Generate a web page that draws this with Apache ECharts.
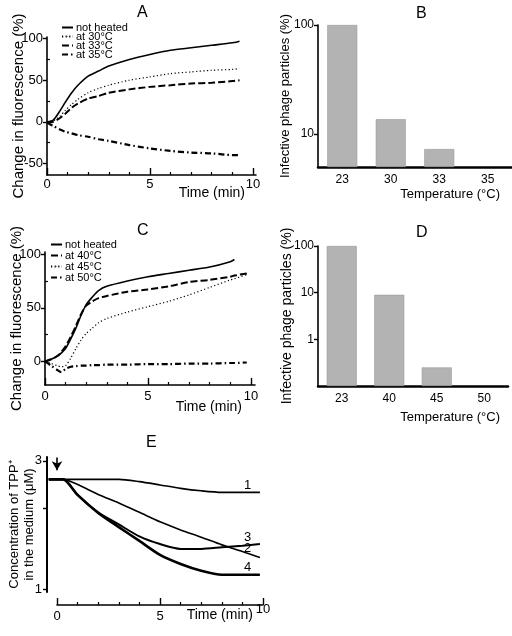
<!DOCTYPE html>
<html><head><meta charset="utf-8">
<script src="https://cdn.jsdelivr.net/npm/echarts@6/dist/echarts.min.js"></script>
<style>html,body{margin:0;padding:0;background:#fff}#c{width:512px;height:636px}</style>
</head><body><div id="c"></div>
<script>
// ---------- data ----------
// Panel A
const timeA = [0, 0.3, 0.6, 0.9, 1.2, 1.5, 2, 2.5, 3, 4, 5, 6, 7, 8, 9, 9.35];
const aNotHeated = [0, 2, 12, 24, 35, 44, 55, 61, 67, 75, 81, 86, 89, 92, 95, 97];
const aAt30 = [0, 1, 6, 14, 21, 27, 35, 40, 44, 50, 54, 58, 60, 62, 63, 64];
const aAt33 = [-1, 0, 4, 10, 17, 22, 28, 31, 35, 39, 42, 44, 46, 47, 49, 50];
const aAt35 = [-1, -5, -9, -12, -14, -16, -18, -21, -23, -28, -32, -35, -37, -38, -40, -40];
const namesA = ['not heated', 'at 30°C', 'at 33°C', 'at 35°C'];
// Panel B
const tempB = ['23', '30', '33', '35'];
const infB = [100, 13.7, 7.3, null];
// Panel C
const timeC = [0, 0.3, 0.6, 0.8, 1, 1.25, 1.5, 1.75, 2, 2.3, 2.6, 3, 4, 5, 6, 7, 8, 9, 9.2, 9.8];
const cNotHeated = [0, 2, 5, 8, 12, 21, 31, 43, 53, 60, 66, 70, 75, 79, 82, 85, 88, 93, 95, null];
const cAt40 = [0, 2, 5, 9, 14, 23, 33, 44, 52, 56, 59, 61, 65, 67, 70, 74, 76, 79, 80, 82];
const cAt45 = [0, -2, -4, -5, -4, 3, 12, 20, 26, 31, 36, 40, 46, 51, 56, 62, 69, 76, 77, 81];
const cAt50 = [0, -4, -8, -10, -7, -5, -4.5, -4, -4, -3.5, -3.5, -3, -3, -2.5, -2.5, -2, -2, -1.5, -1.5, -1];
const namesC = ['not heated', 'at 40°C', 'at 45°C', 'at 50°C'];
// Panel D
const tempD = ['23', '40', '45', '50'];
const infD = [100, 9, 0.25, null];
// Panel E
const timeE = [-0.4, 0, 0.3, 1, 2, 3, 4, 5, 6, 7, 8, 9, 9.85];
const e1 = [2.56, 2.56, 2.56, 2.56, 2.56, 2.56, 2.51, 2.44, 2.37, 2.32, 2.29, 2.29, 2.29];
const e2 = [2.56, 2.56, 2.56, 2.45, 2.25, 2.09, 1.93, 1.78, 1.66, 1.56, 1.46, 1.38, 1.31];
const e3 = [2.56, 2.56, 2.56, 2.24, 1.93, 1.74, 1.57, 1.47, 1.41, 1.41, 1.43, 1.45, 1.47];
const e4 = [2.56, 2.56, 2.56, 2.24, 1.92, 1.70, 1.51, 1.34, 1.24, 1.17, 1.13, 1.13, 1.13];
const curveLabelsE = ['1', '2', '3', '4'];
const arrowTimeE = 0;
// ticks
const xMajor = [0, 5, 10];
const xMinor = [1, 2, 3, 4, 6, 7, 8, 9];
const yMajorA = [-50, 0, 50, 100];
const yMinorA = [-25, 25, 75];
const yMajorC = [0, 50, 100];
const yMinorC = [25, 75];
const yTicksE = [1, 2, 3];
const yLabelsE = [1, 3];

// ---------- chart ----------
const FONT = 'Liberation Sans';
const K = '#000';
const pairs = (xs, ys) => xs.map((x, i) => [x, ys[i]]);
const lineStyleW = w => ({ color: K, width: w });

// axis extents [min, max, interval] (min and max are multiples of interval)
const A_X = [0, 10.15, 0.05], A_Y = [-64, 102, 2];
const C_X = [0, 10.2, 0.2], C_Y = [-22, 102, 2];
const T_X = [0, 10, 1], UNIT = [0, 1, 1];

const grids = [], xAxes = [], yAxes = [];
const addGrid = g => { grids.push(Object.assign({}, g)); return grids.length - 1; };
const addX = a => { xAxes.push(a); return xAxes.length - 1; };
const addY = a => { yAxes.push(a); return yAxes.length - 1; };
const ext = e => ({ min: e[0], max: e[1], interval: e[2] });
const hiddenX = (gi, e) => addX(Object.assign({ gridIndex: gi, type: 'value', show: false }, ext(e)));
const hiddenY = (gi, e) => addY(Object.assign({ gridIndex: gi, type: 'value', show: false }, ext(e)));

function minorX(gi, e, vals) {
  return Object.assign({ gridIndex: gi, type: 'value', position: 'bottom',
    axisLine: { show: false },
    axisTick: { show: true, inside: true, length: 3, customValues: vals, lineStyle: lineStyleW(1.2) },
    axisLabel: { show: false }, splitLine: { show: false } }, ext(e));
}
function minorY(gi, e, vals) {
  return Object.assign({ gridIndex: gi, type: 'value', position: 'left',
    axisLine: { show: false },
    axisTick: { show: true, inside: true, length: 3, customValues: vals, lineStyle: lineStyleW(1.2) },
    axisLabel: { show: false }, splitLine: { show: false } }, ext(e));
}
function timeAxis(gi, e, labelMargin, namePad, nameGap, labelFmt, labelLH) {
  const label = { customValues: xMajor, color: K, fontSize: 13, margin: labelMargin,
    rich: { up: { fontSize: 13, color: K, lineHeight: 8 } } };
  if (labelFmt) label.formatter = labelFmt;
  if (labelLH) label.lineHeight = labelLH;
  return Object.assign({ gridIndex: gi, type: 'value', position: 'bottom',
    axisLine: { show: true, lineStyle: lineStyleW(1.6) },
    axisTick: { show: true, inside: true, length: 7, customValues: xMajor, lineStyle: lineStyleW(1.4) },
    axisLabel: label,
    splitLine: { show: false },
    name: 'Time (min)', nameLocation: 'end', nameGap: nameGap, nameMoveOverlap: false,
    nameTextStyle: { color: K, fontSize: 14, align: 'right', verticalAlign: 'top', padding: [namePad, 0, 0, 0] } }, ext(e));
}
function fluorY(gi, e, ticks) {
  return Object.assign({ gridIndex: gi, type: 'value', position: 'left',
    axisLine: { show: true, lineStyle: lineStyleW(1.6) },
    axisTick: { show: true, inside: false, length: 4, customValues: ticks, lineStyle: lineStyleW(1.4) },
    axisLabel: { customValues: ticks, color: K, fontSize: 13, margin: 4 }, splitLine: { show: false },
    name: 'Change in fluorescence (%)', nameLocation: 'middle', nameGap: 21, nameMoveOverlap: false,
    nameTextStyle: { color: K, fontSize: 15 } }, ext(e));
}
function tempX(gi, cats, nameGap, namePad) {
  return { gridIndex: gi, type: 'category', position: 'bottom', data: cats,
    axisLine: { show: true, onZero: false, lineStyle: lineStyleW(2.5) },
    axisTick: { show: false }, axisLabel: { color: K, fontSize: 12, margin: 7 },
    name: 'Temperature (°C)', nameLocation: 'end', nameGap: nameGap, nameMoveOverlap: false,
    nameTextStyle: { color: K, fontSize: 13, align: 'right', verticalAlign: 'top', padding: [namePad, 0, 0, 0] } };
}
function infY(gi, min, max, nameGap, nameSize) {
  return { gridIndex: gi, type: 'log', position: 'left', logBase: 10, min: min, max: max, startValue: min,
    axisLine: { show: true, onZero: false, lineStyle: lineStyleW(1.6) },
    axisTick: { show: true, inside: false, length: 4, lineStyle: lineStyleW(1.4) },
    axisLabel: { color: K, fontSize: 12, margin: 4, showMinLabel: false }, splitLine: { show: false },
    minorTick: { show: false },
    name: 'Infective phage particles (%)', nameLocation: 'middle', nameGap: nameGap, nameMoveOverlap: false,
    nameTextStyle: { color: K, fontSize: nameSize } };
}

// geometry: data grids, plus thin strips that carry the visible axes
const gA = { left: 47, top: 37, width: 209, height: 138 };
const gAx = { left: 47, top: 170, width: 209, height: 5 };
const gAy = { left: 47, top: 37, width: 5, height: 138 };
const gB = { left: 318, top: 25, width: 194, height: 142 };
const gC = { left: 45, top: 252, width: 210, height: 133 };
const gCx = { left: 45, top: 380, width: 210, height: 5 };
const gCy = { left: 45, top: 252, width: 5, height: 133 };
const gD = { left: 318, top: 246, width: 190, height: 140 };
const gE = { left: 47, top: 457, width: 216, height: 135 };
const gT = { left: 57, top: 600, width: 206, height: 5 };

// Panel A
let g = addGrid(gA);
const axA = hiddenX(g, A_X), ayA = hiddenY(g, A_Y);
g = addGrid(gAx); addX(timeAxis(g, A_X, 3, 11, -11)); hiddenY(g, UNIT);
g = addGrid(gAx); addX(minorX(g, A_X, xMinor)); hiddenY(g, UNIT);
g = addGrid(gAy); hiddenX(g, UNIT); addY(fluorY(g, A_Y, yMajorA));
g = addGrid(gAy); hiddenX(g, UNIT); addY(minorY(g, A_Y, yMinorA));
// Panel B
g = addGrid(gB);
const axB = addX(tempX(g, tempB, -12, 21)), ayB = addY(infY(g, 5, 100, 26, 13));
// Panel C
g = addGrid(gC);
const axC = hiddenX(g, C_X), ayC = hiddenY(g, C_Y);
g = addGrid(gCx); addX(timeAxis(g, C_X, 5, 15, -13)); hiddenY(g, UNIT);
g = addGrid(gCx); addX(minorX(g, C_X, xMinor)); hiddenY(g, UNIT);
g = addGrid(gCy); hiddenX(g, UNIT); addY(fluorY(g, C_Y, yMajorC));
g = addGrid(gCy); hiddenX(g, UNIT); addY(minorY(g, C_Y, yMinorC));
// Panel D
g = addGrid(gD);
const axD = addX(tempX(g, tempD, -8, 25)), ayD = addY(infY(g, 0.1, 100, 24, 14));
// Panel E
g = addGrid(gE);
const axE = addX({ gridIndex: g, type: 'value', min: -0.485, max: 10, show: false });
const ayE = addY({ gridIndex: g, type: 'log', position: 'left', logBase: 10, min: 0.975, max: 3.1,
  axisLine: { show: true, onZero: false, lineStyle: lineStyleW(2) },
  axisTick: { show: true, inside: false, length: 4, customValues: yTicksE, lineStyle: lineStyleW(1.4) },
  axisLabel: { customValues: yLabelsE, color: K, fontSize: 13, margin: 5 }, splitLine: { show: false },
  name: 'Concentration of TPP⁺\nin the medium (μM)', nameLocation: 'middle', nameGap: 10, nameMoveOverlap: false,
  nameTextStyle: { color: K, fontSize: 13, lineHeight: 15 } });
g = addGrid(gT); addX(timeAxis(g, T_X, 0, 3, -10, v => (v === 10 ? '{up|10}' : String(v)), 22)); hiddenY(g, UNIT);
g = addGrid(gT); addX(minorX(g, T_X, xMinor)); hiddenY(g, UNIT);

const lineSeries = (name, xi, yi, data, w, type) => ({
  name, type: 'line', xAxisIndex: xi, yAxisIndex: yi, data, showSymbol: false, symbol: 'none',
  smooth: 0.25, connectNulls: false,
  lineStyle: { color: K, width: w, type: type }, itemStyle: { color: K }
});
const barStyle = { color: '#b3b3b3', borderColor: '#999', borderWidth: 0.6 };

const chart = echarts.init(document.getElementById('c'), null, { renderer: 'canvas' });
const option = {
  animation: false,
  backgroundColor: '#fff',
  textStyle: { fontFamily: FONT, color: K },
  title: [
    { text: 'A', left: 137, top: 5 },
    { text: 'B', left: 416, top: 6 },
    { text: 'C', left: 137, top: 223 },
    { text: 'D', left: 416, top: 225 },
    { text: 'E', left: 146, top: 435 }
  ].map(t => Object.assign(t, { padding: 0, textStyle: { fontSize: 16, fontWeight: 'normal', color: K, fontFamily: FONT, lineHeight: 16 } })),
  legend: [
    { data: namesA, left: 61, top: 22, itemGap: -2 },
    { data: namesC, left: 50, top: 239, itemGap: 0 }
  ].map((l, i) => Object.assign(l, { orient: 'vertical', padding: 0, itemWidth: 11, itemHeight: 1,
    selectedMode: false,
    textStyle: { fontSize: 11, color: K, fontFamily: FONT, lineHeight: i === 0 ? 9 : 10.5, padding: [0, 0, 0, -2] } })),
  grid: grids,
  xAxis: xAxes,
  yAxis: yAxes,
  series: [
    lineSeries(namesA[0], axA, ayA, pairs(timeA, aNotHeated), 1.6, 'solid'),
    lineSeries(namesA[1], axA, ayA, pairs(timeA, aAt30), 1.2, [1.2, 2.4]),
    lineSeries(namesA[2], axA, ayA, pairs(timeA, aAt33), 2, [7, 3]),
    lineSeries(namesA[3], axA, ayA, pairs(timeA, aAt35), 2.2, [6, 3, 1.5, 3]),
    { name: 'B', type: 'bar', xAxisIndex: axB, yAxisIndex: ayB, data: infB, barWidth: 30, itemStyle: barStyle },
    lineSeries(namesC[0], axC, ayC, pairs(timeC, cNotHeated), 1.6, 'solid'),
    lineSeries(namesC[1], axC, ayC, pairs(timeC, cAt40), 2, [7, 3]),
    lineSeries(namesC[2], axC, ayC, pairs(timeC, cAt45), 1.2, [1.2, 2.4]),
    lineSeries(namesC[3], axC, ayC, pairs(timeC, cAt50), 2.2, [6, 3, 1.5, 3]),
    { name: 'D', type: 'bar', xAxisIndex: axD, yAxisIndex: ayD, data: infD, barWidth: 30, itemStyle: barStyle }
  ].concat([e1, e2, e3, e4].map((vals, i) => {
    const s = lineSeries('E' + curveLabelsE[i], axE, ayE, pairs(timeE, vals), [1.6, 1.6, 2, 2.6][i], 'solid');
    s.endLabel = { show: true, formatter: curveLabelsE[i], color: K, fontSize: 13, fontFamily: FONT,
      offset: [[-24, -7], [-24, -9], [-24, -7], [-24, -7]][i] };
    if (i === 0) {
      s.markLine = { silent: true, symbol: ['none', 'arrow'], symbolSize: [8, 9], animation: false,
        lineStyle: { color: K, width: 1.6, type: 'solid' }, label: { show: false },
        data: [[{ coord: [arrowTimeE, 3.09] }, { coord: [arrowTimeE, 2.77] }]] };
    }
    return s;
  }))
};
chart.setOption(option);
</script></body></html>
